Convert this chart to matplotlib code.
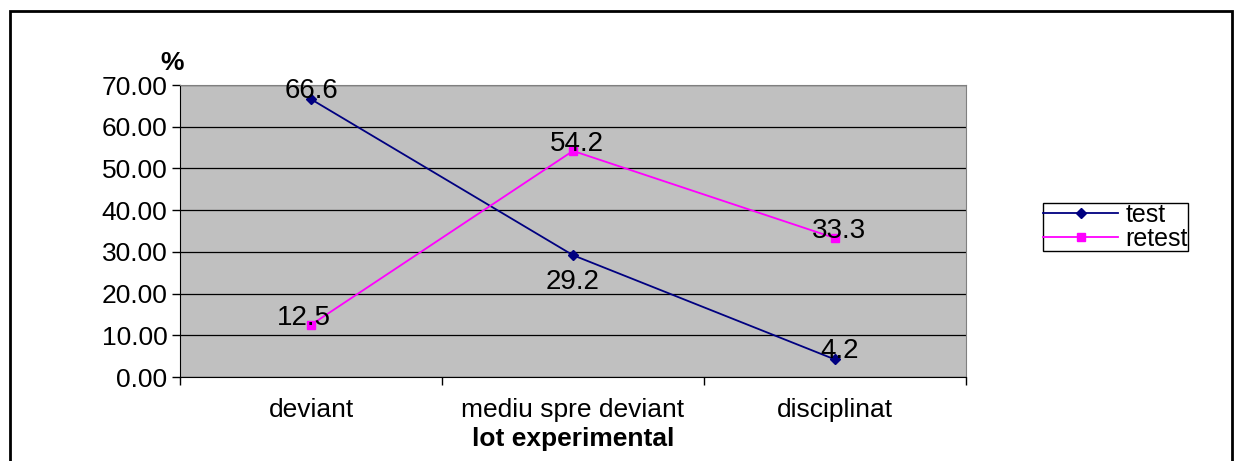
import matplotlib
matplotlib.use('Agg')
import matplotlib.pyplot as plt
from matplotlib.patches import Rectangle

plt.rcParams['font.family'] = ['Liberation Sans', 'DejaVu Sans']

categories = ['deviant', 'mediu spre deviant', 'disciplinat']
test = [66.6, 29.2, 4.2]
retest = [12.5, 54.2, 33.3]
test_labels = ['66.6', '29.2', '4.2']
retest_labels = ['12.5', '54.2', '33.3']
yticks = [0, 10, 20, 30, 40, 50, 60, 70]

W, H = 1240, 461
fig = plt.figure(figsize=(W / 100, H / 100), dpi=100)

# outer frame of the chart
fig.patches.append(Rectangle((10 / W, -0.05), 1222 / W, 1 - 11 / H + 0.05,
                             transform=fig.transFigure, fill=False,
                             edgecolor='black', linewidth=2))

ax = fig.add_axes([180 / W, 1 - 377 / H, 786 / W, 292 / H])
ax.set_facecolor('#C0C0C0')
x = list(range(len(categories)))

ax.plot(x, test, color='#000080', marker='D', markersize=5, linewidth=1.3,
        label='test', zorder=3)
ax.plot(x, retest, color='#FF00FF', marker='s', markersize=6, linewidth=1.3,
        label='retest', zorder=3)

for i, lab in enumerate(test_labels):
    dy = -19 if i == 1 else 6
    ax.annotate(lab, (x[i], test[i]), xytext=(0 if i != 2 else 3, dy),
                textcoords='offset points', ha='center', va='center',
                fontsize=20, zorder=4)
for i, lab in enumerate(retest_labels):
    ax.annotate(lab, (x[i], retest[i]), xytext=(-5 if i == 0 else 3, 5),
                textcoords='offset points', ha='center', va='center',
                fontsize=20, zorder=4)

ax.set_xlim(-0.5, 2.5)
ax.set_ylim(0, 70)
ax.set_yticks(yticks)
ax.set_yticklabels([f'{v:.2f}' for v in yticks], fontsize=19)
ax.yaxis.grid(True, color='black', linewidth=0.9)
ax.set_axisbelow(True)
ax.set_xticks(x)
ax.set_xticklabels(categories, fontsize=19)
ax.set_xticks([-0.5, 0.5, 1.5, 2.5], minor=True)
ax.tick_params(axis='x', which='major', length=0, pad=15)
ax.tick_params(axis='x', which='minor', length=6, width=1, direction='out')
ax.tick_params(axis='y', length=6, width=1, direction='out', pad=3)
for side in ['top', 'right']:
    ax.spines[side].set_color('#808080')
for side in ['left', 'bottom']:
    ax.spines[side].set_color('black')

ax.set_xlabel('lot experimental', fontsize=19, fontweight='bold', labelpad=4)
fig.text(172 / W, 1 - 63 / H, '%', fontsize=19, fontweight='bold',
         ha='center', va='center')

leg = ax.legend(loc='upper left', bbox_to_anchor=(1043 / W, 1 - 203 / H),
                bbox_transform=fig.transFigure, fontsize=18, frameon=True,
                fancybox=False, edgecolor='black', framealpha=1,
                handlelength=3.0, borderpad=0.0, labelspacing=0.0,
                handletextpad=0.3, borderaxespad=0)
leg.get_frame().set_linewidth(1)

fig.savefig('out.png', dpi=100)
